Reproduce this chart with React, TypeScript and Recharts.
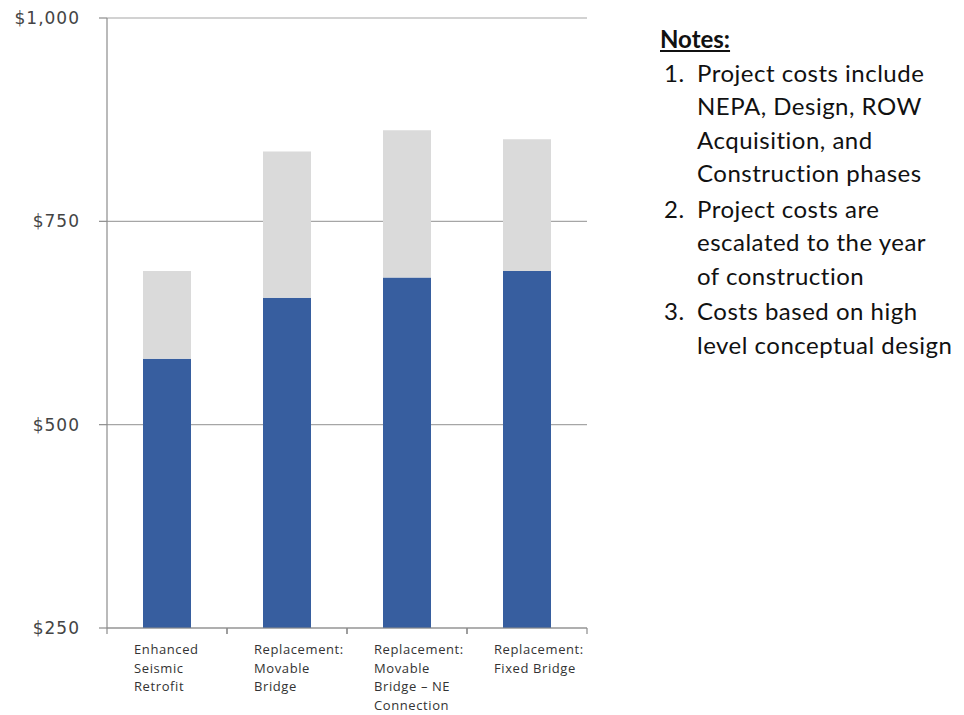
import React from "react";
import {Bar, BarChart, CartesianGrid, XAxis, YAxis} from "recharts";

const categories = [
  "Enhanced|Seismic|Retrofit",
  "Replacement:|Movable|Bridge",
  "Replacement:|Movable|Bridge – NE|Connection",
  "Replacement:|Fixed Bridge",
];
// lower estimate (blue) and upper estimate (grey top), $ millions
const lowCost = [581, 656, 681, 689];
const highCost = [689, 836, 862, 851];
const yTicks = [250, 500, 750, 1000];

const noteLines = [
  ["Project costs include", "NEPA, Design, ROW", "Acquisition, and", "Construction phases"],
  ["Project costs are", "escalated to the year", "of construction"],
  ["Costs based on high", "level conceptual design"],
];

const chartData = categories.map((name, i) => ({
  name,
  low: lowCost[i],
  range: highCost[i] - lowCost[i],
}));

const CategoryTick = (props: any) => {
  const {x, y, payload} = props;
  const lines: string[] = String(payload.value).split("|");
  const axisY = y - 8;
  return (
    <g>
      <line x1={x - 60} x2={x - 60} y1={axisY} y2={axisY + 6} stroke="#8c8c8c" strokeWidth={1.2} />
      <line x1={x + 60} x2={x + 60} y1={axisY} y2={axisY + 6} stroke="#8c8c8c" strokeWidth={1.2} />
      <text
        x={x - 33}
        y={axisY + 26}
        fill="#333"
        fontSize={13}
        fontFamily="'Open Sans', sans-serif"
        letterSpacing={0.6}
      >
        {lines.map((l, i) => (
          <tspan key={i} x={x - 33} dy={i === 0 ? 0 : 18.7}>
            {l}
          </tspan>
        ))}
      </text>
    </g>
  );
};

const formatDollar = (v: number) => "$" + v.toLocaleString("en-US");

export default function App() {
  return (
    <div style={{position: "absolute", left: 0, top: 0, width: 964, height: 715, background: "#fff"}}>
      <BarChart
        width={964}
        height={715}
        data={chartData}
        margin={{top: 18, right: 377, left: 0, bottom: 0}}
      >
        <CartesianGrid vertical={false} stroke="#a6a6a6" strokeWidth={1.2} />
        <XAxis
          dataKey="name"
          height={87}
          axisLine={{stroke: "#8c8c8c", strokeWidth: 1.2}}
          tickLine={false}
          tick={<CategoryTick />}
          interval={0}
        />
        <YAxis
          width={107}
          domain={[250, 1000]}
          ticks={yTicks}
          allowDataOverflow
          tickFormatter={formatDollar}
          axisLine={{stroke: "#8c8c8c", strokeWidth: 1.2}}
          tickLine={{stroke: "#8c8c8c", strokeWidth: 1.2}}
          tickSize={8}
          tickMargin={19}
          tick={{fill: "#444", fontSize: 17, fontFamily: "'DejaVu Sans', Verdana, sans-serif", letterSpacing: 1}}
        />
        <Bar dataKey="low" stackId="a" fill="#375e9f" barSize={48} isAnimationActive={false} />
        <Bar dataKey="range" stackId="a" fill="#dadada" barSize={48} isAnimationActive={false} />
      </BarChart>
      <div
        style={{
          position: "absolute",
          left: 660,
          top: 22,
          fontFamily: "Lato, 'Open Sans', sans-serif",
          fontSize: 24,
          letterSpacing: 0.5,
          color: "#111",
          lineHeight: "33.5px",
        }}
      >
        <div style={{fontWeight: 700, textDecoration: "underline", letterSpacing: 0}}>Notes:</div>
        {noteLines.map((lines, i) => (
          <div key={i} style={{display: "flex", marginTop: i === 0 ? 0 : 2}}>
            <div style={{width: 33, paddingLeft: 4}}>{i + 1}.</div>
            <div>
              {lines.map((l, j) => (
                <div key={j}>{l}</div>
              ))}
            </div>
          </div>
        ))}
      </div>
    </div>
  );
}
